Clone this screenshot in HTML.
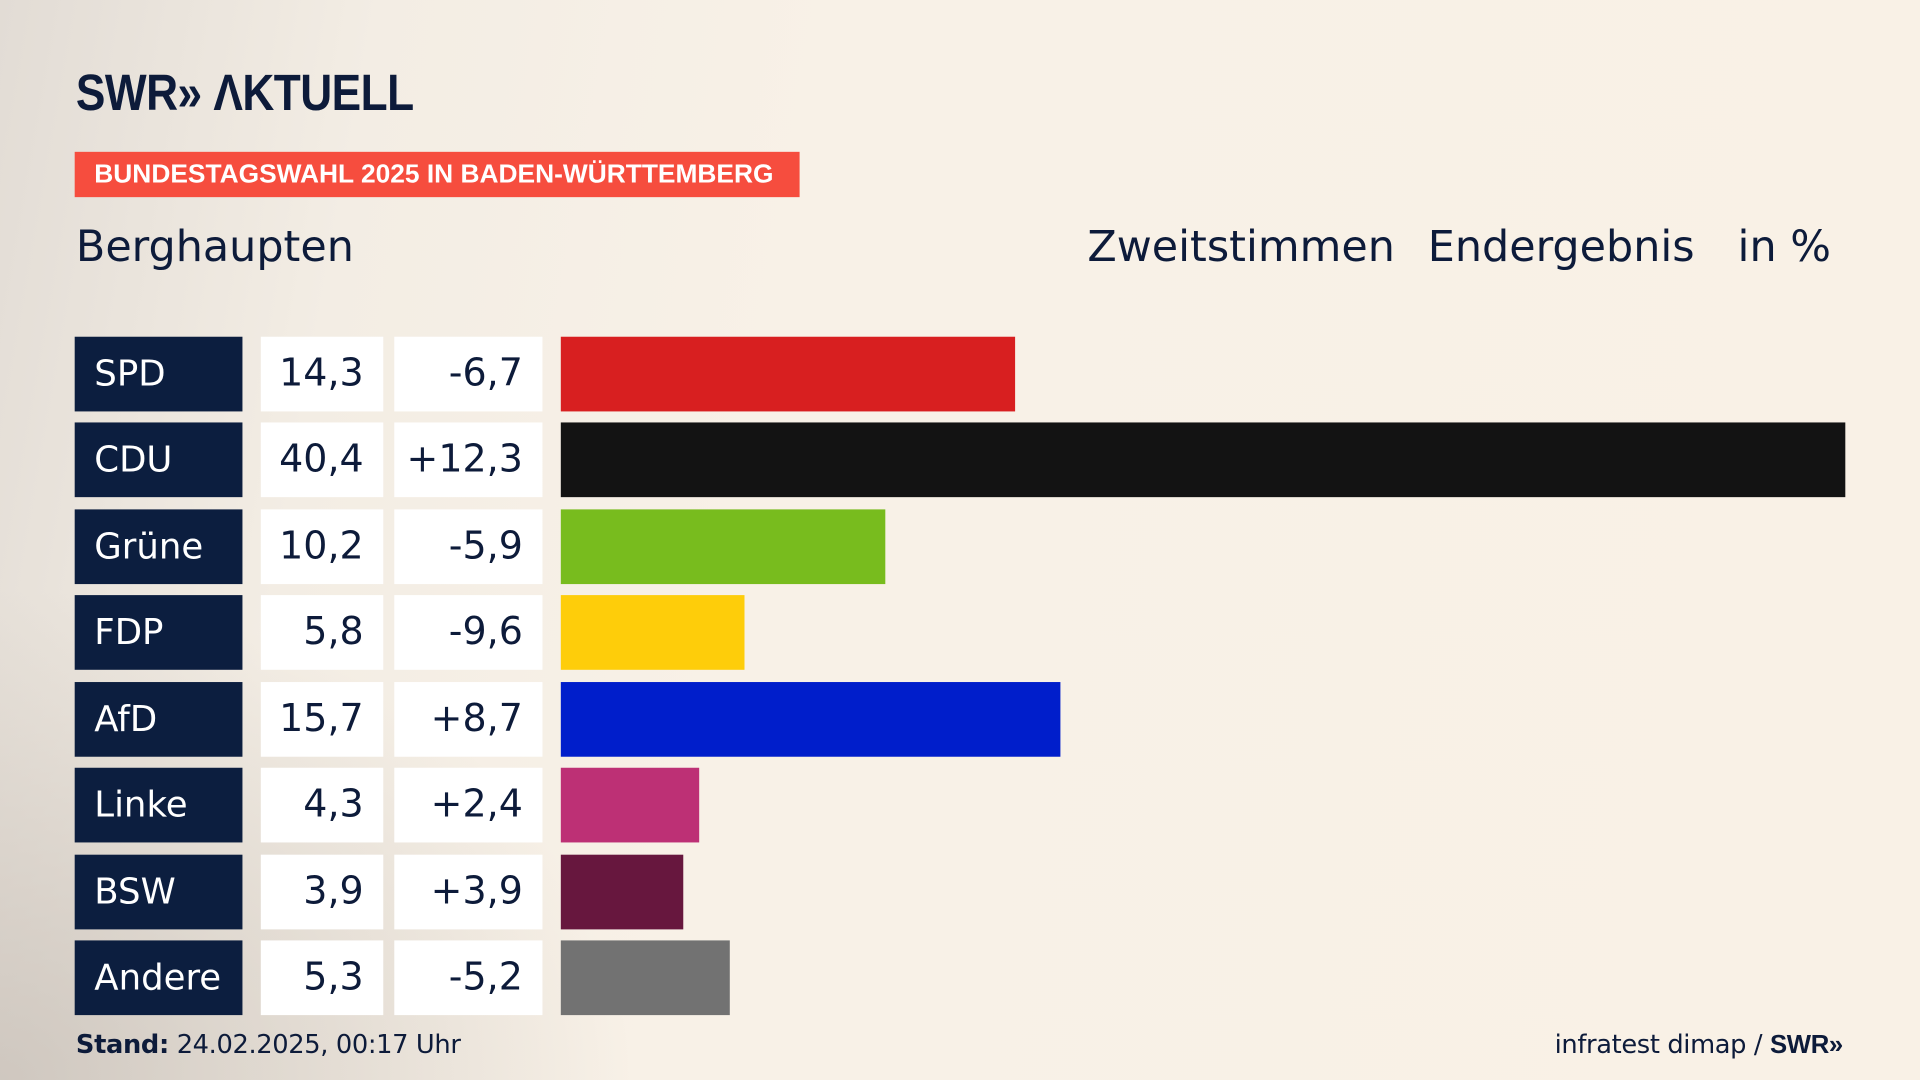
<!DOCTYPE html>
<html><head><meta charset="utf-8"><style>
html,body{margin:0;padding:0;width:1920px;height:1080px;overflow:hidden}
body{background:radial-gradient(ellipse 900px 700px at 0% 100%,rgba(200,192,184,0.8),rgba(200,192,184,0) 70%),linear-gradient(100deg,#e2dcd5 0%,#f3ede4 18%,#f8f1e7 40%,#f9f1e6 100%);font-family:"DejaVu Sans","Liberation Sans",sans-serif;color:#0d1b3a}
#w{position:absolute;left:0;top:0;width:1568px;height:882px;transform:scale(1.22449);transform-origin:0 0}
.a{position:absolute}
.logo{left:62px;top:52px;font-family:"Liberation Sans",sans-serif;font-weight:bold;font-size:42px;letter-spacing:-0.5px;color:#0d1b3a;white-space:nowrap;transform:scaleX(0.86);transform-origin:0 0}
.tag{left:61px;top:124px;width:592px;height:37px;background:#f64d3e;color:#fff;font-family:"Liberation Sans",sans-serif;font-weight:bold;font-size:21.5px;line-height:37px;padding-left:16px;box-sizing:border-box;white-space:nowrap}
.h{top:182px;font-size:35px;color:#0d1b3a}
.lab{left:61px;width:137px;height:61px;background:#0c1e3f;color:#fff;font-size:29px;line-height:61px;padding-left:16px;box-sizing:border-box}
.v{background:#fff;height:61px;font-size:31px;line-height:61px;text-align:right;box-sizing:border-box;padding-right:16px}
.v1{left:213px;width:100px}
.v2{left:322px;width:121px}
.bar{left:458px;height:61px}
.f{top:841px;font-size:21px;letter-spacing:-0.3px;white-space:nowrap}
</style></head><body><div id="w">
<div class="a logo">SWR» ΛKTUELL</div>
<div class="a tag">BUNDESTAGSWAHL 2025 IN BADEN-WÜRTTEMBERG</div>
<div class="a h" style="left:62px">Berghaupten</div>
<div class="a h" style="left:888px">Zweitstimmen</div>
<div class="a h" style="left:1166px">Endergebnis</div>
<div class="a h" style="left:1419px">in %</div>

<div class="a lab" style="top:275px">SPD</div><div class="a v v1" style="top:275px">14,3</div><div class="a v v2" style="top:275px">-6,7</div><div class="a bar" style="top:275px;width:371px;background:#d81f20"></div>
<div class="a lab" style="top:345px">CDU</div><div class="a v v1" style="top:345px">40,4</div><div class="a v v2" style="top:345px">+12,3</div><div class="a bar" style="top:345px;width:1049px;background:#131313"></div>
<div class="a lab" style="top:416px">Grüne</div><div class="a v v1" style="top:416px">10,2</div><div class="a v v2" style="top:416px">-5,9</div><div class="a bar" style="top:416px;width:265px;background:#78bc1e"></div>
<div class="a lab" style="top:486px">FDP</div><div class="a v v1" style="top:486px">5,8</div><div class="a v v2" style="top:486px">-9,6</div><div class="a bar" style="top:486px;width:150px;background:#fecd0a"></div>
<div class="a lab" style="top:557px">AfD</div><div class="a v v1" style="top:557px">15,7</div><div class="a v v2" style="top:557px">+8,7</div><div class="a bar" style="top:557px;width:408px;background:#001ecb"></div>
<div class="a lab" style="top:627px">Linke</div><div class="a v v1" style="top:627px">4,3</div><div class="a v v2" style="top:627px">+2,4</div><div class="a bar" style="top:627px;width:113px;background:#bd3075"></div>
<div class="a lab" style="top:698px">BSW</div><div class="a v v1" style="top:698px">3,9</div><div class="a v v2" style="top:698px">+3,9</div><div class="a bar" style="top:698px;width:100px;background:#67173e"></div>
<div class="a lab" style="top:768px">Andere</div><div class="a v v1" style="top:768px">5,3</div><div class="a v v2" style="top:768px">-5,2</div><div class="a bar" style="top:768px;width:138px;background:#727272"></div>

<div class="a f" style="left:62px"><b>Stand:</b> 24.02.2025, 00:17 Uhr</div>
<div class="a f" style="right:63px">infratest dimap / <b style="font-family:'Liberation Sans',sans-serif">SWR»</b></div>
</div></body></html>
